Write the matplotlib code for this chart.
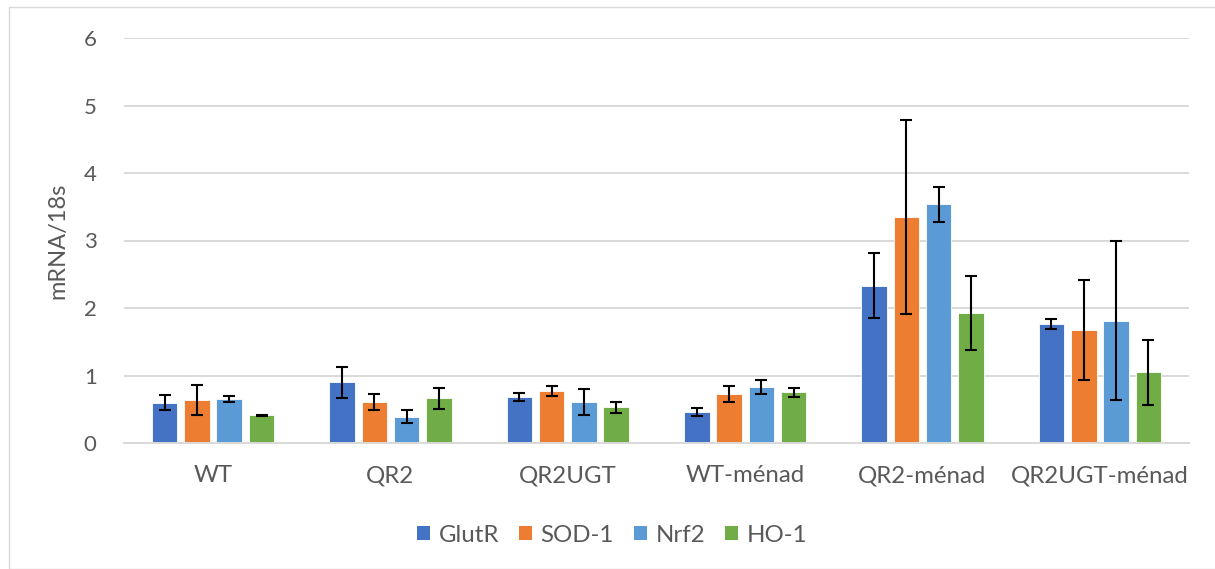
import matplotlib
matplotlib.use("Agg")
import matplotlib.pyplot as plt
import numpy as np
from matplotlib.patches import Patch, Rectangle

plt.rcParams['font.family'] = ['Lato', 'DejaVu Sans']

groups = ["WT", "QR2", "QR2UGT", "WT-ménad", "QR2-ménad", "QR2UGT-ménad"]
series = ["GlutR", "SOD-1", "Nrf2", "HO-1"]
colors = ["#4472C4", "#ED7D31", "#5B9BD5", "#70AD47"]

glutr = [0.60, 0.90, 0.68, 0.46, 2.33, 1.76]
sod1 = [0.64, 0.61, 0.77, 0.73, 3.35, 1.67]
nrf2 = [0.65, 0.39, 0.61, 0.83, 3.54, 1.81]
ho1 = [0.41, 0.66, 0.53, 0.75, 1.93, 1.05]

glutr_err = [0.11, 0.23, 0.06, 0.06, 0.48, 0.07]
sod1_err = [0.22, 0.12, 0.08, 0.12, 1.44, 0.74]
nrf2_err = [0.04, 0.10, 0.19, 0.10, 0.26, 1.18]
ho1_err = [0.01, 0.16, 0.08, 0.07, 0.55, 0.48]

values = [glutr, sod1, nrf2, ho1]
errors = [glutr_err, sod1_err, nrf2_err, ho1_err]

W, H = 1215, 569
fig = plt.figure(figsize=(W / 100, H / 100), dpi=100)
ax = fig.add_axes([124.4 / W, 1 - 443 / H, (1188.6 - 124.4) / W, (443 - 38) / H])

text_color = "#595959"
grid_color = "#D9D9D9"

x = np.arange(len(groups))
pitch = 0.182
width = 0.144
for i, (vals, errs, col, name) in enumerate(zip(values, errors, colors, series)):
    pos = x + (i - 1.5) * pitch
    ax.bar(pos, vals, width=width, color=col, edgecolor="white", linewidth=0.6,
           label=name, zorder=2)
    ax.errorbar(pos, vals, yerr=errs, fmt="none", ecolor="black", elinewidth=1.5,
                capsize=4.5, capthick=1.5, zorder=3)

ax.set_xlim(-0.5, len(groups) - 0.5)
ax.set_ylim(0, 6)
ax.set_yticks(range(0, 7))
ax.grid(axis="y", color=grid_color, linewidth=1.4, zorder=0)
ax.set_axisbelow(True)
for s in ["top", "right", "left"]:
    ax.spines[s].set_visible(False)
ax.spines["bottom"].set_color(grid_color)
ax.spines["bottom"].set_linewidth(1.4)
ax.tick_params(axis="both", length=0, colors=text_color)
ax.tick_params(axis="y", labelsize=16, pad=20)
ax.tick_params(axis="x", labelsize=17.3, pad=16)
ax.set_xticks(x)
ax.set_xticklabels(groups)

fig.text(58 / W, 1 - 241 / H, "mRNA/18s", rotation=90, ha="center", va="center",
         fontsize=17, color=text_color)

handles = [Patch(facecolor=c, edgecolor="none") for c in colors]
leg = fig.legend(handles, series, loc="center", bbox_to_anchor=(612 / W, 1 - 535 / H),
                 ncol=4, frameon=False, fontsize=17.3, handlelength=0.55, handleheight=0.55,
                 handletextpad=0.35, columnspacing=0.83)
for t in leg.get_texts():
    t.set_color(text_color)

fig.patches.append(Rectangle((9 / W, 0), 1.0, 1 - 7 / H, transform=fig.transFigure,
                             fill=False, edgecolor="#D9D9D9", linewidth=1.0))

fig.savefig("out.png", dpi=100, facecolor="white")
